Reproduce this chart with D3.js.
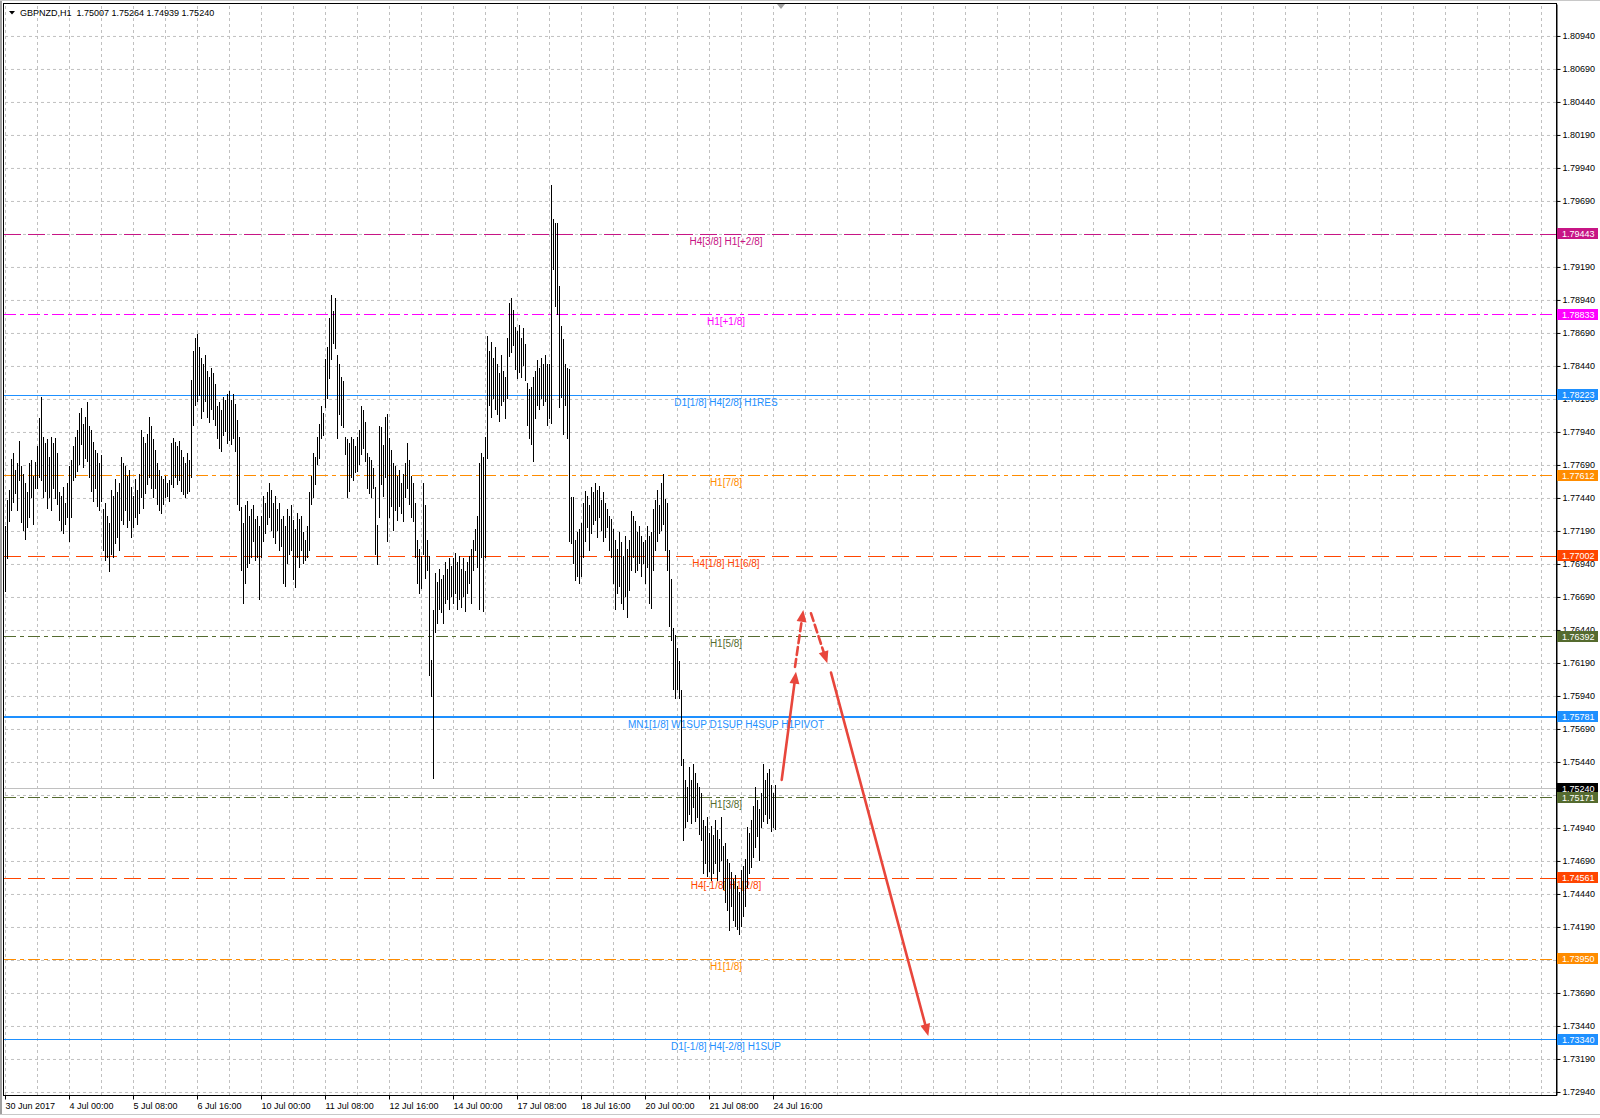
<!DOCTYPE html>
<html>
<head>
<meta charset="utf-8">
<script src="https://cdnjs.cloudflare.com/ajax/libs/d3/7.8.5/d3.min.js"></script>
<style>
  body { margin: 0; background: #fff; }
  svg { display: block; font-family: "Liberation Sans", Arial, sans-serif; }
</style>
</head>
<body>
<svg id="chart" width="1600" height="1118"></svg>
<script>
// ---- data ----
const titleText = 'GBPNZD,H1  1.75007 1.75264 1.74939 1.75240';

const dateTicks = [0, 32, 64, 96, 128, 160, 192, 224, 256, 288, 320, 352, 384];
const dateLabels = ['30 Jun 2017', '4 Jul 00:00', '5 Jul 08:00', '6 Jul 16:00', '10 Jul 00:00',
  '11 Jul 08:00', '12 Jul 16:00', '14 Jul 00:00', '17 Jul 08:00', '18 Jul 16:00',
  '20 Jul 00:00', '21 Jul 08:00', '24 Jul 16:00'];

const priceTicks = [1.72940, 1.73190, 1.73440, 1.73690, 1.73940, 1.74190, 1.74440, 1.74690,
  1.74940, 1.75190, 1.75440, 1.75690, 1.75940, 1.76190, 1.76440, 1.76690, 1.76940, 1.77190,
  1.77440, 1.77690, 1.77940, 1.78190, 1.78440, 1.78690, 1.78940, 1.79190, 1.79440, 1.79690,
  1.79940, 1.80190, 1.80440, 1.80690, 1.80940];

// hourly bars, one entry per bar (highs / lows)
const highs = [
  1.7722,1.7742,1.7750,1.7773,1.7778,1.7765,1.7770,1.7787,1.7768,1.7762,1.7755,1.7748,1.7770,1.7772,1.7760,1.7771,
  1.7783,1.7804,1.7820,1.7790,1.7785,1.7788,1.7775,1.7790,1.7785,1.7789,1.7778,1.7748,1.7745,1.7752,1.7740,1.7755,
  1.7768,1.7772,1.7783,1.7790,1.7795,1.7808,1.7812,1.7800,1.7805,1.7816,1.7798,1.7795,1.7786,1.7780,1.7778,1.7770,
  1.7776,1.7735,1.7740,1.7730,1.7725,1.7750,1.7745,1.7758,1.7748,1.7755,1.7775,1.7770,1.7768,1.7760,1.7765,1.7752,
  1.7745,1.7758,1.7750,1.7762,1.7795,1.7790,1.7785,1.7792,1.7805,1.7798,1.7788,1.7780,1.7770,1.7765,1.7760,1.7758,
  1.7760,1.7755,1.7757,1.7785,1.7789,1.7786,1.7783,1.7787,1.7780,1.7775,1.7770,1.7778,1.7772,1.7833,1.7855,1.7865,
  1.7868,1.7858,1.7850,1.7845,1.7852,1.7840,1.7835,1.7842,1.7838,1.7830,1.7813,1.7816,1.7810,1.7820,1.7818,1.7822,
  1.7825,1.7818,1.7822,1.7815,1.7803,1.7790,1.7737,1.7725,1.7738,1.7741,1.7730,1.7735,1.7738,1.7728,1.7730,1.7722,
  1.7730,1.7745,1.7740,1.7748,1.7755,1.7750,1.7740,1.7745,1.7735,1.7740,1.7728,1.7730,1.7722,1.7735,1.7730,1.7738,
  1.7727,1.7720,1.7732,1.7728,1.7730,1.7718,1.7712,1.7722,1.7748,1.7760,1.7778,1.7775,1.7790,1.7800,1.7813,1.7808,
  1.7849,1.7858,1.7880,1.7897,1.7885,1.7895,1.7852,1.7845,1.7835,1.7832,1.7790,1.7788,1.7785,1.7790,1.7788,1.7783,
  1.7790,1.7795,1.7813,1.7810,1.7801,1.7778,1.7775,1.7772,1.7766,1.7752,1.7723,1.7798,1.7797,1.7784,1.7805,1.7807,
  1.7789,1.7780,1.7770,1.7768,1.7760,1.7765,1.7755,1.7762,1.7770,1.7785,1.7772,1.7760,1.7755,1.7740,1.7712,1.7705,
  1.7700,1.7755,1.7738,1.7712,1.7700,1.7621,1.7659,1.7687,1.7680,1.7690,1.7682,1.7685,1.7695,1.7690,1.7698,1.7692,
  1.7698,1.7702,1.7695,1.7700,1.7690,1.7698,1.7688,1.7695,1.7700,1.7705,1.7712,1.7720,1.7730,1.7770,1.7778,1.7775,
  1.7790,1.7866,1.7855,1.7862,1.7850,1.7858,1.7845,1.7838,1.7852,1.7840,1.7835,1.7865,1.7891,1.7895,1.7886,1.7873,
  1.7870,1.7875,1.7865,1.7872,1.7860,1.7831,1.7826,1.7828,1.7835,1.7840,1.7848,1.7842,1.7850,1.7845,1.7852,1.7845,
  1.7845,1.7981,1.7955,1.7952,1.7952,1.7904,1.7874,1.7864,1.7845,1.7842,1.7841,1.7744,1.7744,1.7712,1.7718,1.7720,
  1.7725,1.7740,1.7749,1.7745,1.7738,1.7752,1.7748,1.7755,1.7750,1.7753,1.7742,1.7748,1.7740,1.7735,1.7730,1.7728,
  1.7720,1.7712,1.7705,1.7718,1.7710,1.7700,1.7715,1.7705,1.7712,1.7734,1.7730,1.7726,1.7718,1.7722,1.7715,1.7710,
  1.7712,1.7722,1.7715,1.7718,1.7735,1.7742,1.7750,1.7738,1.7755,1.7762,1.7743,1.7740,1.7704,1.7682,1.7645,1.7640,
  1.7630,1.7620,1.7598,1.7546,1.7530,1.7525,1.7540,1.7530,1.7542,1.7535,1.7528,1.7525,1.7520,1.7500,1.7495,1.7502,
  1.7490,1.7495,1.7488,1.7500,1.7492,1.7485,1.7502,1.7480,1.7482,1.7470,1.7467,1.7460,1.7455,1.7458,1.7450,1.7445,
  1.7462,1.7465,1.7470,1.7494,1.7490,1.7500,1.7510,1.7525,1.7515,1.7508,1.7520,1.7542,1.7530,1.7535,1.7538,1.7526,
  1.7520,1.75264
];
const lows = [
  1.7674,1.7699,1.7727,1.7735,1.7741,1.7748,1.7735,1.7758,1.7726,1.7720,1.7713,1.7722,1.7730,1.7745,1.7725,1.7752,
  1.7752,1.7760,1.7758,1.7745,1.7750,1.7737,1.7745,1.7735,1.7752,1.7744,1.7740,1.7728,1.7720,1.7718,1.7725,1.7730,
  1.7712,1.7730,1.7758,1.7760,1.7765,1.7770,1.7785,1.7768,1.7775,1.7772,1.7760,1.7750,1.7742,1.7752,1.7738,1.7735,
  1.7742,1.7705,1.7697,1.7700,1.7689,1.7702,1.7700,1.7710,1.7715,1.7705,1.7728,1.7725,1.7735,1.7722,1.7728,1.7715,
  1.7722,1.7730,1.7725,1.7733,1.7745,1.7737,1.7748,1.7755,1.7760,1.7752,1.7745,1.7752,1.7740,1.7735,1.7733,1.7740,
  1.7745,1.7746,1.7742,1.7755,1.7753,1.7760,1.7755,1.7758,1.7750,1.7747,1.7745,1.7748,1.7750,1.7760,1.7800,1.7815,
  1.7818,1.7822,1.7805,1.7810,1.7818,1.7806,1.7802,1.7812,1.7804,1.7800,1.7790,1.7782,1.7780,1.7792,1.7795,1.7786,
  1.7788,1.7785,1.7790,1.7780,1.7740,1.7735,1.7690,1.7665,1.7680,1.7692,1.7695,1.7700,1.7712,1.7697,1.7700,1.7668,
  1.7700,1.7712,1.7718,1.7725,1.7730,1.7720,1.7715,1.7710,1.7720,1.7705,1.7708,1.7680,1.7678,1.7695,1.7702,1.7705,
  1.7683,1.7677,1.7700,1.7692,1.7705,1.7695,1.7697,1.7700,1.7705,1.7740,1.7745,1.7755,1.7770,1.7775,1.7790,1.7792,
  1.7813,1.7820,1.7835,1.7850,1.7862,1.7858,1.7790,1.7808,1.7800,1.7798,1.7778,1.7745,1.7750,1.7760,1.7758,1.7764,
  1.7765,1.7770,1.7778,1.7782,1.7772,1.7752,1.7748,1.7745,1.7752,1.7702,1.7694,1.7730,1.7755,1.7746,1.7760,1.7712,
  1.7730,1.7738,1.7720,1.7735,1.7728,1.7738,1.7733,1.7727,1.7745,1.7752,1.7740,1.7730,1.7727,1.7700,1.7680,1.7672,
  1.7676,1.7702,1.7684,1.7690,1.7610,1.7594,1.7532,1.7643,1.7650,1.7660,1.7658,1.7650,1.7665,1.7668,1.7660,1.7670,
  1.7665,1.7672,1.7660,1.7668,1.7662,1.7670,1.7659,1.7672,1.7680,1.7665,1.7690,1.7705,1.7692,1.7660,1.7700,1.7659,
  1.7700,1.7775,1.7815,1.7806,1.7820,1.7812,1.7808,1.7803,1.7815,1.7818,1.7805,1.7820,1.7852,1.7855,1.7860,1.7842,
  1.7835,1.7840,1.7836,1.7845,1.7834,1.7800,1.7790,1.7785,1.7772,1.7805,1.7815,1.7812,1.7820,1.7815,1.7818,1.7800,
  1.7805,1.7801,1.7918,1.7890,1.7884,1.7813,1.7821,1.7793,1.7815,1.7790,1.7712,1.7710,1.7695,1.7682,1.7685,1.7680,
  1.7685,1.7700,1.7712,1.7722,1.7705,1.7718,1.7725,1.7728,1.7715,1.7730,1.7720,1.7712,1.7715,1.7722,1.7705,1.7700,
  1.7680,1.7660,1.7672,1.7678,1.7665,1.7660,1.7670,1.7654,1.7675,1.7690,1.7700,1.7688,1.7690,1.7695,1.7685,1.7695,
  1.7680,1.7692,1.7665,1.7661,1.7690,1.7705,1.7712,1.7718,1.7720,1.7725,1.7705,1.7690,1.7647,1.7637,1.7600,1.7593,
  1.7600,1.7593,1.7542,1.7485,1.7495,1.7500,1.7505,1.7498,1.7510,1.7500,1.7503,1.7490,1.7485,1.7460,1.7468,1.7458,
  1.7462,1.7455,1.7460,1.7468,1.7455,1.7462,1.7470,1.7448,1.7438,1.7432,1.7417,1.7435,1.7425,1.7420,1.7418,1.7414,
  1.7420,1.7428,1.7435,1.7450,1.7460,1.7465,1.7472,1.7480,1.7488,1.7470,1.7495,1.7500,1.7505,1.7498,1.7502,1.7492,
  1.7495,1.74939
];

const bidPrice = 1.75240;

// Murrey-math style levels drawn as horizontal lines
const levelPrices = [1.79443, 1.78833, 1.78223, 1.77612, 1.77002, 1.76392, 1.75781, 1.75171, 1.74561, 1.73950, 1.73340];
const levelNames = ['H4[3/8] H1[+2/8]', 'H1[+1/8]', 'D1[1/8] H4[2/8] H1RES', 'H1[7/8]', 'H4[1/8] H1[6/8]',
  'H1[5/8]', 'MN1[1/8] W1SUP D1SUP H4SUP H1PIVOT', 'H1[3/8]', 'H4[-1/8] H1[2/8]', 'H1[1/8]', 'D1[-1/8] H4[-2/8] H1SUP'];

// hand-drawn forecast arrows: [bar, price] -> [bar, price]
const arrowFrom = [[388.35, 1.75304], [395.0, 1.76160], [403.0, 1.76566], [413.0, 1.76117]];
const arrowTo = [[395.5, 1.76124], [399.15, 1.76592], [411.15, 1.76188], [461.65, 1.73364]];

// ---- styles ----
const levelColors = ['#c71585', '#ff00ff', '#1e90ff', '#ff8c00', '#ff4500', '#556b2f',
  '#1e90ff', '#556b2f', '#ff4500', '#ff8c00', '#1e90ff'];
const DASH = '17,7', DASHDOT = '12,4,4,4';
const levelDash = [DASH, DASHDOT, null, DASHDOT, DASH, DASHDOT, null, DASHDOT, DASH, DASHDOT, null];
const levelWidth = [1, 1, 1, 1, 1, 1, 2, 1, 1, 1, 1];
const arrowDashed = [false, true, true, false];
const arrowColor = '#e8463c';

const plot = { left: 4, top: 4, right: 1556, bottom: 1095 };
const labelBar = 360.5;   // time anchor of the level texts
const shiftBar = 388;     // chart shift marker

const svg = d3.select('#chart');

const xScale = d3.scaleLinear().domain([0, 775.5]).range([5, plot.right]);
const yScale = d3.scaleLinear().domain([1.72917, 1.81182]).range([plot.bottom, plot.top]);
const crisp = v => Math.round(v) + 0.5;

// window edges
svg.append('rect').attr('x', 0).attr('y', 0).attr('width', 2).attr('height', 1115).attr('fill', '#a0a0a0');
svg.append('line').attr('x1', 0).attr('x2', 1600).attr('y1', 0.5).attr('y2', 0.5).attr('stroke', '#c8c8c8');
svg.append('line').attr('x1', 0).attr('x2', 1600).attr('y1', 1114.5).attr('y2', 1114.5).attr('stroke', '#c8c8c8');

svg.append('clipPath').attr('id', 'plotClip')
  .append('rect').attr('x', plot.left).attr('y', plot.top)
  .attr('width', plot.right - plot.left).attr('height', plot.bottom - plot.top);

// vertical grid
const xGrid = d3.axisBottom(xScale).tickValues(d3.range(0, 776, 16))
  .tickSize(-(plot.bottom - plot.top)).tickSizeOuter(0).tickFormat('');
const xGridG = svg.append('g').attr('transform', `translate(0,${plot.bottom})`).call(xGrid);
xGridG.select('.domain').remove();
xGridG.selectAll('line').attr('stroke', '#c0c0c0').attr('stroke-dasharray', '3,3');

// horizontal grid
const yGrid = d3.axisLeft(yScale).tickValues(priceTicks)
  .tickSize(plot.right - plot.left).tickSizeOuter(0).tickFormat('');
const yGridG = svg.append('g').attr('transform', `translate(${plot.right},0)`).call(yGrid);
yGridG.select('.domain').remove();
yGridG.selectAll('line').attr('stroke', '#c0c0c0').attr('stroke-dasharray', '3,3');

const plotG = svg.append('g').attr('clip-path', 'url(#plotClip)');

// level lines
levelPrices.forEach((p, i) => {
  plotG.append('line')
    .attr('x1', plot.left).attr('x2', plot.right)
    .attr('y1', levelWidth[i] === 2 ? Math.round(yScale(p)) : crisp(yScale(p)))
    .attr('y2', levelWidth[i] === 2 ? Math.round(yScale(p)) : crisp(yScale(p)))
    .attr('stroke', levelColors[i])
    .attr('stroke-width', levelWidth[i])
    .attr('stroke-dasharray', levelDash[i]);
});

// level texts
levelPrices.forEach((p, i) => {
  plotG.append('text')
    .attr('x', xScale(labelBar))
    .attr('y', yScale(p) + 11)
    .attr('text-anchor', 'middle')
    .attr('font-size', 10)
    .attr('fill', levelColors[i])
    .text(levelNames[i]);
});

// bid line
plotG.append('line')
  .attr('x1', plot.left).attr('x2', plot.right)
  .attr('y1', crisp(yScale(bidPrice))).attr('y2', crisp(yScale(bidPrice)))
  .attr('stroke', '#c0c0c0');

// bars
plotG.append('g').selectAll('line')
  .data(highs)
  .join('line')
  .attr('x1', (d, i) => crisp(xScale(i)))
  .attr('x2', (d, i) => crisp(xScale(i)))
  .attr('y1', d => Math.floor(yScale(d)))
  .attr('y2', (d, i) => Math.ceil(yScale(lows[i])) + 1)
  .attr('stroke', '#000')
  .attr('stroke-width', 1)
  .attr('shape-rendering', 'crispEdges');

// arrows
const arrowG = plotG.append('g');
arrowFrom.forEach((a, i) => {
  const x1 = xScale(a[0]), y1 = yScale(a[1]);
  const x2 = xScale(arrowTo[i][0]), y2 = yScale(arrowTo[i][1]);
  const ang = Math.atan2(y2 - y1, x2 - x1);
  const head = 12, half = 5;
  const bx = x2 - Math.cos(ang) * head, by = y2 - Math.sin(ang) * head;
  arrowG.append('line')
    .attr('x1', x1).attr('y1', y1)
    .attr('x2', bx + Math.cos(ang) * 2).attr('y2', by + Math.sin(ang) * 2)
    .attr('stroke', arrowColor).attr('stroke-width', 2.6)
    .attr('stroke-linecap', 'round')
    .attr('stroke-dasharray', arrowDashed[i] ? '8,4' : null);
  const px = -Math.sin(ang) * half, py = Math.cos(ang) * half;
  arrowG.append('polygon')
    .attr('points', `${x2},${y2} ${bx + px},${by + py} ${bx - px},${by - py}`)
    .attr('fill', arrowColor);
});

// plot frame
svg.append('rect')
  .attr('x', plot.left - 0.5).attr('y', plot.top - 0.5)
  .attr('width', plot.right - plot.left + 1).attr('height', plot.bottom - plot.top + 1)
  .attr('fill', 'none').attr('stroke', '#000');

// price axis
const yAxis = d3.axisRight(yScale).tickValues(priceTicks).tickSize(4).tickSizeOuter(0)
  .tickPadding(2).tickFormat(d => d.toFixed(5));
const yAxisG = svg.append('g').attr('transform', `translate(${plot.right + 0.5},0)`).call(yAxis);
yAxisG.select('.domain').attr('stroke', '#000');
yAxisG.selectAll('line').attr('stroke', '#000');
yAxisG.selectAll('text')
  .attr('fill', '#000')
  .attr('font-size', 9)
  .attr('font-family', '"Liberation Sans", Arial, sans-serif');

// time axis
const xAxis = d3.axisBottom(xScale).tickValues(dateTicks).tickSize(4).tickSizeOuter(0)
  .tickPadding(3).tickFormat((d, i) => dateLabels[i]);
const xAxisG = svg.append('g').attr('transform', `translate(0,${plot.bottom + 0.5})`).call(xAxis);
xAxisG.select('.domain').remove();
xAxisG.selectAll('line').attr('stroke', '#000');
xAxisG.selectAll('text')
  .attr('text-anchor', 'start')
  .attr('x', 0)
  .attr('fill', '#000')
  .attr('font-size', 9)
  .attr('font-family', '"Liberation Sans", Arial, sans-serif');

// price boxes on the right scale
const boxW = 41, boxH = 11;
const priceBox = (p, color) => {
  const yc = yScale(p);
  svg.append('rect')
    .attr('x', plot.right + 1).attr('y', Math.round(yc - boxH / 2))
    .attr('width', boxW).attr('height', boxH)
    .attr('fill', color);
  svg.append('text')
    .attr('x', plot.right + 6).attr('y', Math.round(yc - boxH / 2) + 9)
    .attr('font-size', 9).attr('fill', '#fff')
    .text(p.toFixed(5));
};
priceBox(bidPrice, '#000');
levelPrices.forEach((p, i) => priceBox(p, levelColors[i]));

// chart shift marker
const sx = xScale(shiftBar);
svg.append('polygon')
  .attr('points', `${sx - 4},${plot.top} ${sx + 4},${plot.top} ${sx},${plot.top + 5}`)
  .attr('fill', '#a0a0a0');

// title
svg.append('polygon').attr('points', '9,11 15,11 12,14.5').attr('fill', '#000');
svg.append('text')
  .attr('x', 20).attr('y', 16)
  .attr('font-size', 9)
  .attr('fill', '#000')
  .style('white-space', 'pre')
  .text(titleText);
</script>
</body>
</html>
